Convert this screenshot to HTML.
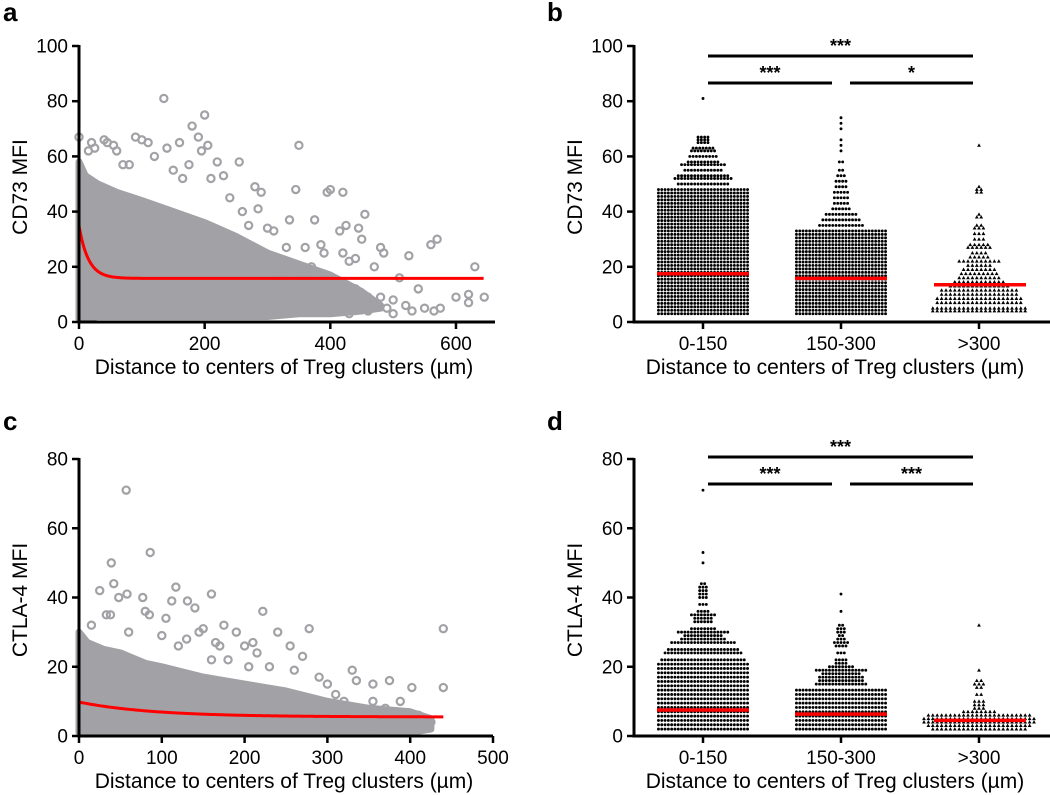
<!DOCTYPE html>
<html><head><meta charset="utf-8"><style>
html,body{margin:0;padding:0;background:#fff}
svg{display:block;font-family:"Liberation Sans",Arial,sans-serif}
</style></head><body>
<svg id="fig" width="1050" height="795" viewBox="0 0 1050 795">
<g id="pa"></g>
<g id="pb"></g>
<g id="pc"></g>
<g id="pd"></g>
</svg>
<script>
// ---------- data ----------
const aYTicks=[0,20,40,60,80,100];
const aXTicks=[0,200,400,600];
const aCoreX=[0,10,30,60,100,150,200,250,300,350,400,450,480];
const aCoreLo=[1,1,2,2,2,2,2,2,2,3,3,4,5];
const aCoreHi=[58,53,50,47,44,40,36,31,25,21,17,11,6];
const aOutX=[0,15,20,25,40,45,55,60,70,80,90,100,110,120,135,140,150,160,165,175,180,190,195,200,205,210,220,230,240,255,260,270,280,285,290,300,310,330,335,345,350,360,375,385,390,395,400,415,420,420,425,430,440,445,450,455,470,480,485,510,525,540,560,570,575,600,620,630,645,620,550,500,490,480,460,430,410,500,520,530,565,460,440,380,370,360,320,340];
const aOutY=[67,62,65,63,66,65,64,62,57,57,67,66,65,60,81,63,55,65,52,57,71,67,62,75,64,52,58,53,45,58,40,35,49,41,47,34,33,27,37,48,64,27,37,28,25,47,48,33,25,47,35,22,23,34,30,39,20,27,25,16,24,12,28,30,5,9,10,20,9,7,5,3,5,9,4,3,8,8,6,4,4,9,12,10,20,15,18,20];
const aFit=[15.8,19,15]; // plateau, span, decay length
const aFitMaxX=645;

const cYTicks=[0,20,40,60,80];
const cXTicks=[0,100,200,300,400,500];
const cCoreX=[0,10,30,50,80,100,150,200,250,300,350,400,425];
const cCoreLo=[1,1,1,1,1,1,1,1,1,1,1,1,2];
const cCoreHi=[30,27,25,24,21,20,17,15,13,10,8,7,5];
const cOutX=[57,39,86,42,58,25,48,77,117,112,131,160,140,222,33,38,80,85,105,175,240,278,190,200,210,15,60,100,255,270,180,230,260,330,335,355,375,388,402,440,440,300,310,290,320,355,370,425,410,415,400,350,215,290,160,165,170,120,130,145,150,205,215];
const cOutY=[71,50,53,44,41,42,40,40,43,39,39,41,37,36,35,35,36,35,34,32,30,31,30,26,27,32,30,29,26,23,22,20,19,19,16,15,16,10,14,31,14,15,12,17,10,10,8,4,6,2,2,1,1,2,22,27,26,26,28,30,31,20,24];
const cFit=[5.5,4.3,90];
const cFitMaxX=440;

const cats=["0-150","150-300",">300"];
const bYTicks=[0,20,40,60,80,100];
const bMedians=[17.5,15.8,13.5];
const bSeg0=[[3,48,28]];
const bRows0=[[50,16],[52,18],[53,16],[55,12],[57,14],[58,10],[60,9],[62,8],[63,7],[65,4],[66,4],[67,4],[81,1]];
const bSeg1=[[3,33,28]];
const bRows1=[[35,14],[37,12],[39,10],[41,6],[43,5],[45,5],[47,5],[49,4],[51,4],[53,3],[55,2],[58,2],[62,1],[64,1],[66,1],[70,1],[72,1],[74,1]];
const bSeg2=[];
const bRows2=[[4,22],[5,22],[7,20],[8.5,20],[10,18],[11.5,18],[13,14],[14.5,12],[16,10],[17.5,9],[19,8],[20.5,6],[22,10],[23.5,5],[25,4],[27,6],[28,5],[30,3],[32,3],[34,3],[35,2],[38,2],[39,1],[47,2],[48,2],[49,1],[64,1]];

const dYTicks=[0,20,40,60,80];
const dMedians=[7.5,6.3,4.5];
const dSeg0=[[2,21,28]];
const dRows0=[[22,26],[24,24],[25,22],[27,20],[28,14],[29,12],[30,16],[31,8],[33,6],[34,6],[35,8],[36,4],[38,3],[40,3],[41,3],[42,3],[43,3],[44,2],[50,1],[53,1],[71,1]];
const dSeg1=[[2,14,28]];
const dRows1=[[15,16],[16,14],[17,14],[18,12],[19,16],[20,8],[21,4],[22,4],[24,3],[26,4],[27,5],[28,3],[29,2],[30,3],[31,3],[32,2],[36,1],[41,1]];
const dSeg2=[];
const dRows2=[[2,22],[3,24],[4,26],[5,26],[6,24],[7,8],[8,3],[9,3],[10,3],[12,2],[14,2],[15,3],[16,2],[19,1],[32,1]];

// ---------- helpers ----------
const NS="http://www.w3.org/2000/svg";
function mk(parent,tag,attrs,text){const e=document.createElementNS(NS,tag);for(const k in attrs)e.setAttribute(k,attrs[k]);if(text!==undefined)e.textContent=text;parent.appendChild(e);return e;}
const GRAY="#a2a2a6";

function axesY(g,x0,y0,yTop,ticks,ys,label,labX,labY,name){
  const ax=mk(g,'line',{x1:x0,y1:yTop-1,x2:x0,y2:y0+1.5,stroke:'#000','stroke-width':3});
  
  ticks.forEach(t=>{const y=ys(t);
    const l=mk(g,'line',{x1:x0-7,y1:y,x2:x0,y2:y,stroke:'#000','stroke-width':2.5});
    
    const tx=mk(g,'text',{x:x0-11,y:y+6.5,'text-anchor':'end','font-size':19},String(t));
    });
  const yl=mk(g,'text',{x:labX,y:labY,'text-anchor':'middle','font-size':21,transform:`rotate(-90 ${labX} ${labY})`},label);
  
}
function xLabel(g,cx,y){const t=mk(g,'text',{x:cx,y:y,'text-anchor':'middle','font-size':21},'Distance to centers of Treg clusters (µm)');
  }
function letter(g,x,y,s){const t=mk(g,'text',{x:x,y:y,'font-size':26,'font-weight':'bold'},s);
  }

function scatterPanel(g,P){
  const xs=v=>P.x0+v*P.kx, ys=v=>P.y0-v*P.ky;
  let pts=[];P.coreX.forEach((x,i)=>pts.push(xs(x)+','+ys(P.coreHi[i])));
  for(let i=P.coreX.length-1;i>=0;i--)pts.push(xs(P.coreX[i])+','+ys(P.coreLo[i]));
  const core=mk(g,'polygon',{points:pts.join(' '),fill:GRAY,stroke:GRAY,'stroke-width':7,'stroke-linejoin':'round'});
  
  P.outX.forEach((x,i)=>{const c=mk(g,'circle',{cx:xs(x),cy:ys(P.outY[i]),r:3.6,fill:'none',stroke:GRAY,'stroke-width':2.2});
    });
  let d='';for(let x=0;x<=P.fitMax;x+=2){const v=P.fit[0]+P.fit[1]*Math.exp(-x/P.fit[2]);d+=(x?'L':'M')+xs(x)+','+ys(v);}
  const fl=mk(g,'path',{d:d,fill:'none',stroke:'#ff0000','stroke-width':3});
  
  axesY(g,P.x0,P.y0,P.yTop,P.yTicks,ys,P.ylabel,27,P.labY,P.name);
  const xa=mk(g,'line',{x1:P.x0-1.5,y1:P.y0,x2:P.xEnd,y2:P.y0,stroke:'#000','stroke-width':3});
  
  P.xTicks.forEach(t=>{const x=xs(t);
    const l=mk(g,'line',{x1:x,y1:P.y0,x2:x,y2:P.y0+7,stroke:'#000','stroke-width':2.5});
    
    const tx=mk(g,'text',{x:x,y:P.y0+28,'text-anchor':'middle','font-size':19},String(t));
    });
  xLabel(g,284,P.y0+52);
}

function swarmPanel(g,P){
  const ys=v=>P.y0-v*P.ky;
  const catX=[703,841,979];
  P.groups.forEach((grp,ci)=>{
    const cx=catX[ci];const rows=[];
    grp.seg.forEach(s=>{for(let y=s[0];y<=s[1];y+=1.25)rows.push([y,s[2]]);});
    grp.rows.forEach(r=>rows.push(r));
    const tri=ci===2;const sp=tri?4.4:3.3;
    rows.forEach(r=>{const n=r[1];const y=ys(r[0]);
      for(let k=0;k<n;k++){const x=cx+(k-(n-1)/2)*sp;
        let e;
        if(tri){e=mk(g,'polygon',{points:`${x},${y-2} ${x-1.9},${y+1.4} ${x+1.9},${y+1.4}`,fill:'#000'});}
        else{e=mk(g,'circle',{cx:x,cy:y,r:1.45,fill:'#000'});}
        }
    });
  });
  const medW=[[657,749],[795,887],[934,1026]];
  P.medians.forEach((m,i)=>{const l=mk(g,'line',{x1:medW[i][0],y1:ys(m),x2:medW[i][1],y2:ys(m),stroke:'#ff0000','stroke-width':3.5});
    });
  axesY(g,P.x0,P.y0,P.yTop,P.yTicks,ys,P.ylabel,582,P.labY,P.name);
  const xa=mk(g,'line',{x1:P.x0-1.5,y1:P.y0,x2:1050,y2:P.y0,stroke:'#000','stroke-width':3});
  
  cats.forEach((c,i)=>{const x=catX[i];
    const l=mk(g,'line',{x1:x,y1:P.y0,x2:x,y2:P.y0+7,stroke:'#000','stroke-width':2.5});
    
    const tx=mk(g,'text',{x:x,y:P.y0+28,'text-anchor':'middle','font-size':19},c);
    });
  xLabel(g,835,P.y0+52);
  const bars=[[708,973,P.sigTop,P.sig[0]],[708,832,P.sigLow,P.sig[1]],[850,973,P.sigLow,P.sig[2]]];
  bars.forEach(b=>{const l=mk(g,'line',{x1:b[0],y1:b[2],x2:b[1],y2:b[2],stroke:'#000','stroke-width':3});
    
    const t=mk(g,'text',{x:(b[0]+b[1])/2,y:b[2]-4,'text-anchor':'middle','font-size':18,'font-weight':'bold'},b[3]);
    });
}

// ---------- draw ----------
const ga=document.getElementById('pa'),gb=document.getElementById('pb'),gc=document.getElementById('pc'),gd=document.getElementById('pd');
letter(ga,3,21,'a');letter(gb,547,21,'b');letter(gc,3,430,'c');letter(gd,547,430,'d');
scatterPanel(ga,{name:'a',x0:79,y0:322,yTop:46,kx:0.6283,ky:2.76,xEnd:495,coreX:aCoreX,coreLo:aCoreLo,coreHi:aCoreHi,outX:aOutX,outY:aOutY,fit:aFit,fitMax:aFitMaxX,yTicks:aYTicks,xTicks:aXTicks,ylabel:'CD73 MFI',labY:187});
scatterPanel(gc,{name:'c',x0:79,y0:736,yTop:459,kx:0.828,ky:3.4625,xEnd:493,coreX:cCoreX,coreLo:cCoreLo,coreHi:cCoreHi,outX:cOutX,outY:cOutY,fit:cFit,fitMax:cFitMaxX,yTicks:cYTicks,xTicks:cXTicks,ylabel:'CTLA-4 MFI',labY:600});
swarmPanel(gb,{name:'b',x0:634,y0:322,yTop:46,ky:2.76,yTicks:bYTicks,ylabel:'CD73 MFI',labY:187,medians:bMedians,
  groups:[{seg:bSeg0,rows:bRows0},{seg:bSeg1,rows:bRows1},{seg:bSeg2,rows:bRows2}],sigTop:56,sigLow:83,sig:['***','***','*']});
swarmPanel(gd,{name:'d',x0:634,y0:736,yTop:459,ky:3.4625,yTicks:dYTicks,ylabel:'CTLA-4 MFI',labY:600,medians:dMedians,
  groups:[{seg:dSeg0,rows:dRows0},{seg:dSeg1,rows:dRows1},{seg:dSeg2,rows:dRows2}],sigTop:457,sigLow:484,sig:['***','***','***']});
</script>
</body></html>
